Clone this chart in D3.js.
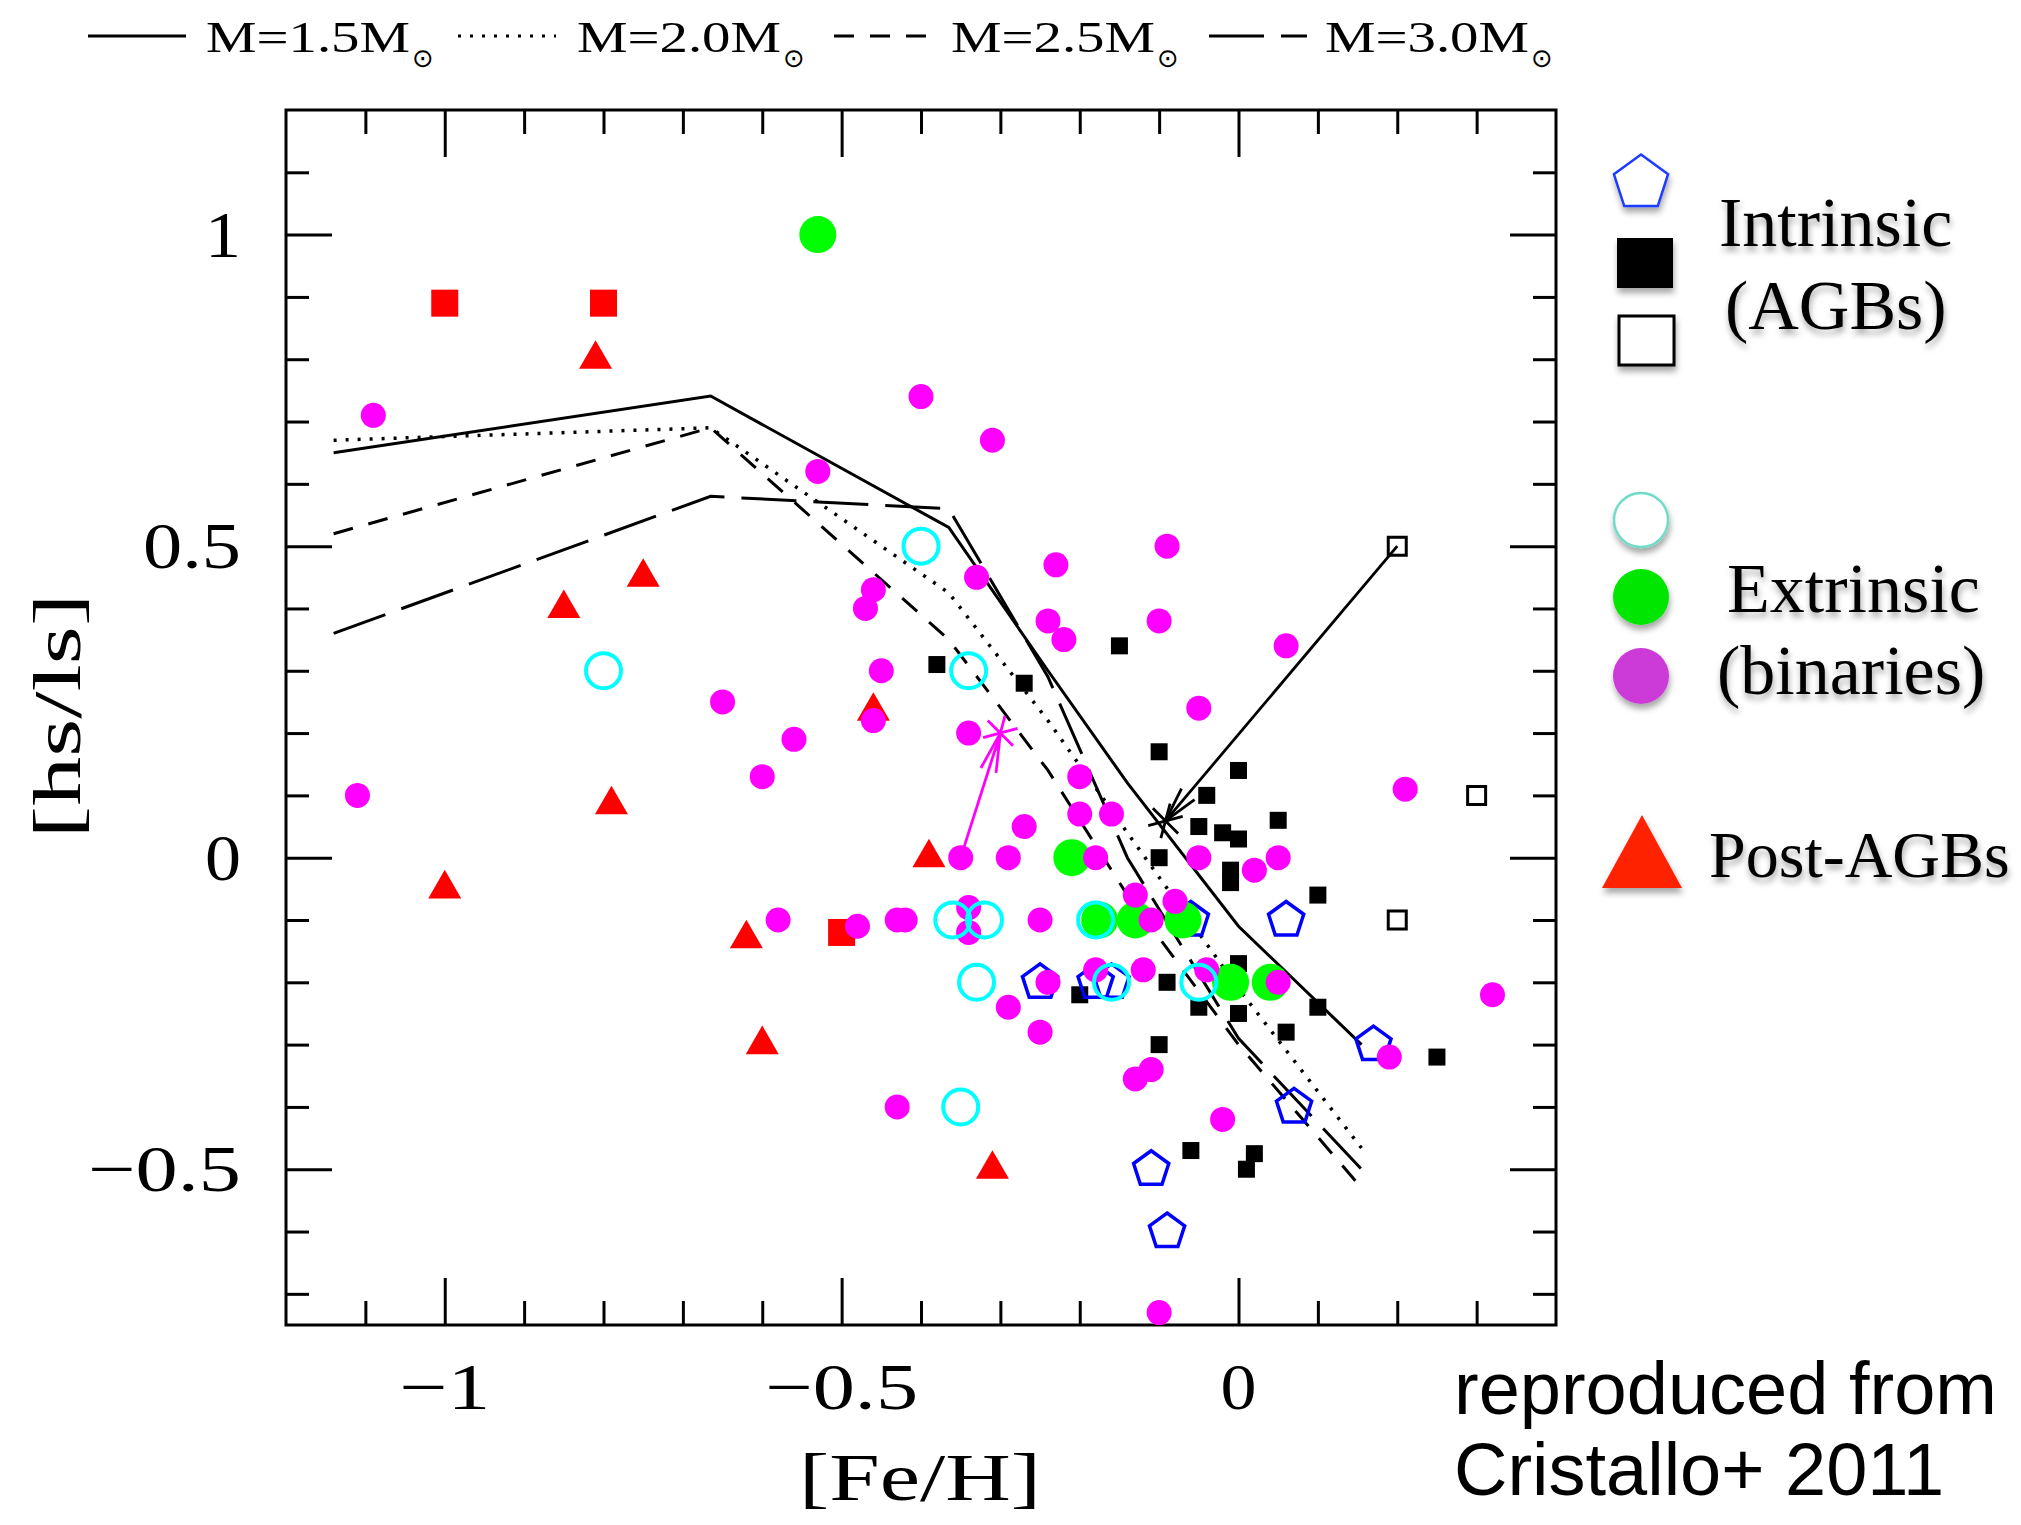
<!DOCTYPE html>
<html>
<head>
<meta charset="utf-8">
<script src="https://cdn.jsdelivr.net/npm/d3@7"></script>
<style>
  body { margin: 0; background: #fff; }
  svg { display: block; }
</style>
</head>
<body>
<svg id="chart"></svg>
<script>
// hs/ls vs [Fe/H], FRUITY models against observed stars

var width = 2021,
    height = 1525;

// model tracks: [Fe/H] grid and [hs/ls] per mass
var modelFeH = [-1.14, -0.665, -0.365, -0.24, -0.14, 0.0, 0.155];
var hsls15 = [0.65, 0.741, 0.53, 0.30, 0.12, -0.11, -0.30];
var hsls20 = [0.67, 0.69, 0.425, 0.22, 0.04, -0.21, -0.466];
var hsls25 = [0.52, 0.69, 0.35, 0.14, -0.06, -0.30, -0.53];
var hsls30 = [0.36, 0.58, 0.56, 0.29, 0.0, -0.29, -0.50];
var massLabels = ["M=1.5M", "M=2.0M", "M=2.5M", "M=3.0M"];

// observed stars [Fe/H, hs/ls]
var binaries = [[-1.09,0.71],[-0.53,0.62],[-0.40,0.74],[-0.31,0.67],[-0.09,0.50],[-0.23,0.47],
  [-0.33,0.45],[-0.24,0.38],[-0.22,0.35],[-0.10,0.38],[0.06,0.34],[-0.05,0.24],[-0.34,0.20],
  [-0.20,0.13],[-0.46,0.43],[-0.47,0.40],[-0.45,0.30],[-0.65,0.25],[-0.46,0.22],[-0.56,0.19],
  [-0.60,0.13],[-1.11,0.10],[-0.58,-0.10],[-0.48,-0.11],[-0.43,-0.10],[-0.42,-0.10],[-0.43,-0.40],
  [-0.35,0.00],[-0.29,0.00],[-0.27,0.05],[-0.20,0.07],[-0.16,0.07],[-0.18,0.00],[-0.13,-0.06],
  [-0.08,-0.07],[-0.34,-0.08],[-0.34,-0.12],[-0.25,-0.10],[-0.11,-0.10],[-0.24,-0.20],[-0.18,-0.18],
  [-0.12,-0.18],[-0.29,-0.24],[-0.25,-0.28],[-0.11,-0.34],[-0.13,-0.355],[0.21,0.11],[-0.05,0.00],
  [0.02,-0.02],[0.05,0.00],[-0.04,-0.18],[0.05,-0.20],[0.19,-0.32],[0.32,-0.22],[-0.02,-0.42],
  [-0.10,-0.73]];
var extrinsicGreen = [[-0.53,1.0],[-0.21,0.0],[-0.175,-0.10],[-0.13,-0.10],[-0.07,-0.10],[-0.01,-0.20],[0.04,-0.20]];
var extrinsicOpen = [[-0.40,0.50],[-0.80,0.30],[-0.34,0.30],[-0.36,-0.10],[-0.32,-0.10],[-0.18,-0.10],
  [-0.33,-0.20],[-0.16,-0.20],[-0.05,-0.20],[-0.35,-0.40]];
var intrinsicPent = [[-0.06,-0.10],[0.06,-0.10],[-0.25,-0.20],[-0.18,-0.20],[-0.16,-0.20],[0.17,-0.30],
  [0.07,-0.40],[-0.11,-0.50],[-0.09,-0.60]];
var agbFilled = [[-0.38,0.31],[-0.27,0.28],[-0.15,0.34],[-0.10,0.17],[0.0,0.14],[-0.04,0.10],[0.05,0.06],
  [-0.05,0.05],[-0.02,0.04],[0.0,0.03],[-0.10,0.0],[-0.01,-0.02],[-0.01,-0.04],[0.10,-0.06],[0.0,-0.17],
  [-0.09,-0.20],[-0.20,-0.22],[-0.05,-0.24],[0.0,-0.25],[0.10,-0.24],[0.06,-0.28],[-0.10,-0.30],
  [0.25,-0.32],[-0.06,-0.47],[0.02,-0.475],[0.01,-0.50]];
var agbOpen = [[0.20,0.50],[0.30,0.10],[0.20,-0.10]];
var postAgbTri = [[-0.81,0.80],[-0.75,0.45],[-0.85,0.40],[-0.79,0.085],[-1.0,-0.05],[-0.62,-0.13],
  [-0.60,-0.30],[-0.46,0.235],[-0.39,0.0],[-0.31,-0.50]];
var postAgbSq = [[-1.0,0.89],[-0.8,0.89],[-0.5,-0.12]];
// arrows: from -> to (asterisk at the end)
var arrowBlack = [[0.20,0.50],[-0.092,0.059]];
var arrowMagenta = [[-0.35,0.0],[-0.30,0.20]];

var xTicksMajor = [-1, -0.5, 0];
var xTickLabels = ["\u22121", "\u22120.5", "0"];
var yTicksMajor = [-0.5, 0, 0.5, 1];
var yTickLabels = ["\u22120.5", "0", "0.5", "1"];

var svg = d3.select('#chart')
            .attr('width', width)
            .attr('height', height);
svg.append('rect').attr('width', width).attr('height', height).attr('fill', '#fff');

var x = d3.scaleLinear().domain([-1.2, 0.4]).range([286, 1556]);
var y = d3.scaleLinear().domain([-0.75, 1.2]).range([1325, 110]);

var serif = "'Liberation Serif', 'Times New Roman', serif";

// ticks, all pointing inward
var xMinor = d3.range(-11, 4).map(d => d / 10).filter(d => Math.abs(d * 2 - Math.round(d * 2)) > 1e-6);
var yMinor = d3.range(-7, 12).map(d => d / 10).filter(d => Math.abs(d * 2 - Math.round(d * 2)) > 1e-6);

function tickGroup(axis, tx, ty) {
  var g = svg.append('g').attr('transform', 'translate(' + tx + ',' + ty + ')').call(axis);
  g.select('.domain').remove();
  g.selectAll('text').remove();
  g.selectAll('line').attr('stroke', '#000').attr('stroke-width', 3);
}
tickGroup(d3.axisBottom(x).tickValues(xMinor).tickSize(-24), 0, 1325);
tickGroup(d3.axisBottom(x).tickValues(xTicksMajor).tickSize(-47), 0, 1325);
tickGroup(d3.axisTop(x).tickValues(xMinor).tickSize(-24), 0, 110);
tickGroup(d3.axisTop(x).tickValues(xTicksMajor).tickSize(-47), 0, 110);
tickGroup(d3.axisLeft(y).tickValues(yMinor).tickSize(-23), 286, 0);
tickGroup(d3.axisLeft(y).tickValues(yTicksMajor).tickSize(-46), 286, 0);
tickGroup(d3.axisRight(y).tickValues(yMinor).tickSize(-23), 1556, 0);
tickGroup(d3.axisRight(y).tickValues(yTicksMajor).tickSize(-46), 1556, 0);

svg.append('rect')
  .attr('x', 286).attr('y', 110)
  .attr('width', 1270).attr('height', 1215)
  .attr('fill', 'none').attr('stroke', '#000').attr('stroke-width', 3);

// the original uses a wide, thin plotting font: stretch the glyphs
function labelWidth(s) {
  var w = 0;
  for (var c of s) w += (c === '\u2212') ? 55 : (c === '.') ? 26 : 36;
  return w;
}

svg.selectAll('.xlab')
  .data(xTicksMajor)
  .enter().append('text')
    .attr('x', d => x(d))
    .attr('y', 1409)
    .attr('text-anchor', 'middle')
    .attr('font-family', serif)
    .attr('font-size', 66)
    .attr('textLength', (d, i) => labelWidth(xTickLabels[i]))
    .attr('lengthAdjust', 'spacingAndGlyphs')
    .text((d, i) => xTickLabels[i]);

svg.selectAll('.ylab')
  .data(yTicksMajor)
  .enter().append('text')
    .attr('x', 241)
    .attr('y', d => y(d) + 22)
    .attr('text-anchor', 'end')
    .attr('font-family', serif)
    .attr('font-size', 66)
    .attr('textLength', (d, i) => labelWidth(yTickLabels[i]))
    .attr('lengthAdjust', 'spacingAndGlyphs')
    .text((d, i) => yTickLabels[i]);

svg.append('text')
  .attr('x', 920).attr('y', 1500)
  .attr('text-anchor', 'middle')
  .attr('font-family', serif).attr('font-size', 68)
  .attr('textLength', 242).attr('lengthAdjust', 'spacingAndGlyphs')
  .text('[Fe/H]');

svg.append('text')
  .attr('transform', 'translate(80,716) rotate(-90)')
  .attr('text-anchor', 'middle')
  .attr('font-family', serif).attr('font-size', 68)
  .attr('textLength', 245).attr('lengthAdjust', 'spacingAndGlyphs')
  .text('[hs/ls]');

// model lines
var dashes = [null, '3,9', '20,16', '55,17'];
var tracks = [hsls15, hsls20, hsls25, hsls30];
var line = d3.line().x(d => x(d[0])).y(d => y(d[1]));

tracks.forEach(function(t, i) {
  svg.append('path')
    .datum(modelFeH.map((f, j) => [f, t[j]]))
    .attr('d', line)
    .attr('fill', 'none')
    .attr('stroke', '#000')
    .attr('stroke-width', i === 1 ? 3.5 : 3)
    .attr('stroke-dasharray', dashes[i]);
});

// top legend
var legX = [88, 458, 834, 1209];
var legTextX = [206, 577, 951, 1325];
massLabels.forEach(function(m, i) {
  svg.append('line')
    .attr('x1', legX[i]).attr('x2', legX[i] + 98)
    .attr('y1', 36).attr('y2', 36)
    .attr('stroke', '#000').attr('stroke-width', 3)
    .attr('stroke-dasharray', dashes[i]);
  svg.append('text')
    .attr('x', legTextX[i]).attr('y', 52)
    .attr('font-family', serif).attr('font-size', 44)
    .attr('textLength', 204).attr('lengthAdjust', 'spacingAndGlyphs')
    .text(m);
  svg.append('text')
    .attr('x', legTextX[i] + 217).attr('y', 67)
    .attr('text-anchor', 'middle')
    .attr('font-family', "'DejaVu Sans', sans-serif").attr('font-size', 26)
    .text('\u2299');
});

// markers
var plot = svg.append('g');

function pentagonPath(r) {
  var pts = d3.range(5).map(function(i) {
    var a = -Math.PI / 2 + i * 2 * Math.PI / 5;
    return [r * Math.cos(a), r * Math.sin(a)];
  });
  return 'M' + pts.join('L') + 'Z';
}
function tr(d) { return 'translate(' + x(d[0]) + ',' + y(d[1]) + ')'; }

plot.selectAll('.tri').data(postAgbTri).enter().append('path')
  .attr('transform', tr)
  .attr('d', d3.symbol().type(d3.symbolTriangle).size(472))
  .attr('fill', '#ff0000');

plot.selectAll('.rsq').data(postAgbSq).enter().append('path')
  .attr('transform', tr)
  .attr('d', d3.symbol().type(d3.symbolSquare).size(729))
  .attr('fill', '#ff0000');

plot.selectAll('.bsq').data(agbFilled).enter().append('path')
  .attr('transform', tr)
  .attr('d', d3.symbol().type(d3.symbolSquare).size(289))
  .attr('fill', '#000');

plot.selectAll('.pent').data(intrinsicPent).enter().append('path')
  .attr('transform', tr)
  .attr('d', pentagonPath(18.5))
  .attr('fill', 'none')
  .attr('stroke', '#0000ff').attr('stroke-width', 3.5);

plot.selectAll('.grn').data(extrinsicGreen).enter().append('circle')
  .attr('cx', d => x(d[0])).attr('cy', d => y(d[1]))
  .attr('r', 18.5)
  .attr('fill', '#00ff00');

plot.selectAll('.mag').data(binaries).enter().append('circle')
  .attr('cx', d => x(d[0])).attr('cy', d => y(d[1]))
  .attr('r', 12.5)
  .attr('fill', '#ff00ff');

plot.selectAll('.cyn').data(extrinsicOpen).enter().append('circle')
  .attr('cx', d => x(d[0])).attr('cy', d => y(d[1]))
  .attr('r', 17.5)
  .attr('fill', 'none')
  .attr('stroke', '#00ffff').attr('stroke-width', 4);

plot.selectAll('.osq').data(agbOpen).enter().append('path')
  .attr('transform', tr)
  .attr('d', d3.symbol().type(d3.symbolSquare).size(324))
  .attr('fill', 'none')
  .attr('stroke', '#000').attr('stroke-width', 3);

// arrows with open heads and an asterisk at the tip
function arrow(pts, color, barbLen, barbAng) {
  var x0 = x(pts[0][0]), y0 = y(pts[0][1]);
  var x1 = x(pts[1][0]), y1 = y(pts[1][1]);
  var a = Math.atan2(y0 - y1, x0 - x1);
  svg.append('line')
    .attr('x1', x0).attr('y1', y0).attr('x2', x1).attr('y2', y1)
    .attr('stroke', color).attr('stroke-width', 2.8);
  [-barbAng, barbAng].forEach(function(da) {
    svg.append('line')
      .attr('x1', x1).attr('y1', y1)
      .attr('x2', x1 + barbLen * Math.cos(a + da))
      .attr('y2', y1 + barbLen * Math.sin(a + da))
      .attr('stroke', color).attr('stroke-width', 2.8);
  });
  svg.append('path')
    .attr('transform', 'translate(' + x1 + ',' + y1 + ') rotate(15)')
    .attr('d', d3.symbol().type(d3.symbolAsterisk).size(900))
    .attr('fill', 'none')
    .attr('stroke', color).attr('stroke-width', 2.8);
}
arrow(arrowBlack, '#000', 36, 0.24);
arrow(arrowMagenta, '#ff00ff', 40, 0.2);

// right legend
var defs = svg.append('defs');
var f = defs.append('filter').attr('id', 'shadow')
  .attr('x', '-30%').attr('y', '-30%').attr('width', '160%').attr('height', '170%');
f.append('feDropShadow').attr('dx', 1).attr('dy', 5).attr('stdDeviation', 3)
  .attr('flood-color', '#000').attr('flood-opacity', 0.35);

var leg = svg.append('g');
leg.append('path')
  .attr('transform', 'translate(1641,183)')
  .attr('d', pentagonPath(28.5))
  .attr('fill', '#fff').attr('stroke', '#1f3cff').attr('stroke-width', 2.5)
  .attr('filter', 'url(#shadow)');
leg.append('rect').attr('x', 1617).attr('y', 238).attr('width', 56).attr('height', 50)
  .attr('fill', '#000').attr('filter', 'url(#shadow)');
leg.append('rect').attr('x', 1619).attr('y', 316).attr('width', 55).attr('height', 49)
  .attr('fill', '#fff').attr('stroke', '#000').attr('stroke-width', 3)
  .attr('filter', 'url(#shadow)');
leg.append('ellipse').attr('cx', 1641).attr('cy', 520).attr('rx', 27).attr('ry', 27)
  .attr('fill', '#fff').attr('stroke', '#6fdcc8').attr('stroke-width', 2.5)
  .attr('filter', 'url(#shadow)');
leg.append('ellipse').attr('cx', 1641).attr('cy', 597).attr('rx', 28).attr('ry', 28)
  .attr('fill', '#00e600').attr('filter', 'url(#shadow)');
leg.append('ellipse').attr('cx', 1641).attr('cy', 676).attr('rx', 28).attr('ry', 28)
  .attr('fill', '#cc3ad8').attr('filter', 'url(#shadow)');
leg.append('path')
  .attr('d', 'M1642,815L1682,888L1602,888Z')
  .attr('fill', '#ff2200').attr('filter', 'url(#shadow)');

var legendText = [
  ['Intrinsic', 1719, 246, 70],
  ['(AGBs)', 1725, 329, 70],
  ['Extrinsic', 1727, 612, 70],
  ['(binaries)', 1717, 694, 70],
  ['Post-AGBs', 1709, 877, 66]
];
leg.selectAll('.lt').data(legendText).enter().append('text')
  .attr('x', d => d[1]).attr('y', d => d[2])
  .attr('font-family', serif).attr('font-size', d => d[3])
  .attr('filter', 'url(#shadow)')
  .text(d => d[0]);

svg.append('text')
  .attr('x', 1454).attr('y', 1414)
  .attr('font-family', "'Liberation Sans', Arial, sans-serif").attr('font-size', 74)
  .text('reproduced from');
svg.append('text')
  .attr('x', 1454).attr('y', 1495)
  .attr('font-family', "'Liberation Sans', Arial, sans-serif").attr('font-size', 74)
  .text('Cristallo+ 2011');
</script>
</body>
</html>
